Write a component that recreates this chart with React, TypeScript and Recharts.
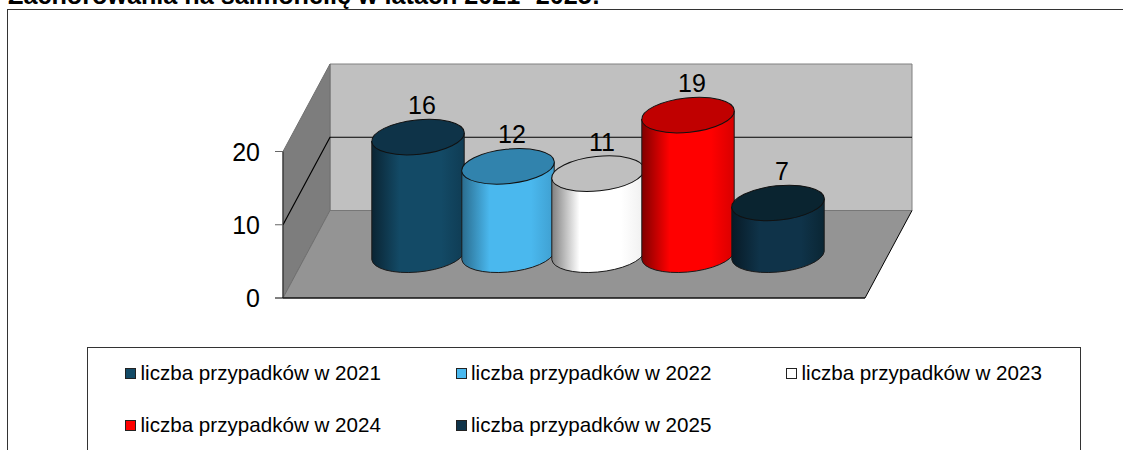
import { Bar, BarChart, LabelList, Legend, ReferenceArea, XAxis, YAxis } from 'recharts';

const title = 'Zachorowania na salmonellę w latach 2021- 2025:';
const categories = ['Zachorowania'];
const seriesNames = [
  'liczba przypadków w 2021',
  'liczba przypadków w 2022',
  'liczba przypadków w 2023',
  'liczba przypadków w 2024',
  'liczba przypadków w 2025',
];
const seriesValues = [16, 12, 11, 19, 7];
const yTicks = [0, 10, 20];

const sideFills = ['#134a66', '#4ab8ee', '#ffffff', '#ff0000', '#0f3349'];
const edgeFills = ['#0a2433', '#2a6c8e', '#808080', '#800000', '#071a26'];
const rightFills = ['#0f3c54', '#3f9fd0', '#f0f0f0', '#d80000', '#0a2634'];
const topFills = ['#0e3348', '#3183ad', '#bfbfbf', '#c00000', '#0a2430'];

const chartData = categories.map((category) => {
  const row: Record<string, string | number> = { category };
  seriesNames.forEach((name, i) => {
    row[name] = seriesValues[i];
  });
  return row;
});

const FONT = '"Liberation Sans", Arial, sans-serif';
const DEPTH_X = 47;
const DEPTH_Y = 87.5;
const RX = 46.5;
const RY = 17.2;
const TILT = 6;
const TANGENT = 4;

function Walls({ x, y, width, height }: any) {
  const bottom = y + height;
  const right = x + width;
  const backTop = y - DEPTH_Y;
  const backBottom = bottom - DEPTH_Y;
  const backLeft = x + DEPTH_X;
  const backRight = right + DEPTH_X;
  const midFront = y + height / 2;
  const midBack = midFront - DEPTH_Y;
  return (
    <g>
      <polygon
        points={`${backLeft},${backTop} ${backRight},${backTop} ${backRight},${backBottom} ${backLeft},${backBottom}`}
        fill="#c0c0c0"
        stroke="#808080"
        strokeWidth={1}
      />
      <polygon
        points={`${x},${y} ${backLeft},${backTop} ${backLeft},${backBottom} ${x},${bottom}`}
        fill="#7d7d7d"
        stroke="#707070"
        strokeWidth={1}
      />
      <polygon
        points={`${x},${bottom} ${backLeft},${backBottom} ${backRight},${backBottom} ${right},${bottom}`}
        fill="#949494"
      />
      <line x1={backLeft} y1={backBottom} x2={backRight} y2={backBottom} stroke="#777777" />
      <line x1={x} y1={bottom} x2={backLeft} y2={backBottom} stroke="#707070" />
      <line x1={right} y1={bottom} x2={backRight} y2={backBottom} stroke="#000000" />
      <polyline
        points={`${x},${midFront} ${backLeft},${midBack} ${backRight},${midBack}`}
        fill="none"
        stroke="#000000"
        strokeWidth={1.2}
      />
    </g>
  );
}

function makeCylinder(index: number) {
  return function Cylinder({ x, y, width, height }: any) {
    const cx = x + width / 2 + DEPTH_X / 2 + 0.5;
    const topY = y - DEPTH_Y / 2;
    const baseY = y + height - DEPTH_Y / 2 + 1.5;
    const left = cx - RX + 0.3;
    const right = cx + RX - 0.3;
    const side =
      `M${left},${topY + TANGENT} L${left},${baseY + TANGENT} ` +
      `A${RX},${RY} ${-TILT} 0 0 ${right},${baseY - TANGENT} ` +
      `L${right},${topY - TANGENT} ` +
      `A${RX},${RY} ${-TILT} 0 1 ${left},${topY + TANGENT} Z`;
    return (
      <g>
        <path d={side} fill={`url(#side-${index})`} stroke="#1a1a1a" strokeWidth={1} />
        <ellipse
          cx={cx}
          cy={topY}
          rx={RX}
          ry={RY}
          transform={`rotate(${-TILT} ${cx} ${topY})`}
          fill={topFills[index]}
          stroke="#111111"
          strokeWidth={1}
        />
      </g>
    );
  };
}

function renderValue({ x, y, width, value }: any) {
  return (
    <text
      x={x + width / 2 + DEPTH_X / 2 + 4.5}
      y={y - DEPTH_Y / 2 - 23}
      textAnchor="middle"
      fontFamily={FONT}
      fontSize={25}
      fill="#000000"
    >
      {value}
    </text>
  );
}

function renderTick({ x, y, payload }: any) {
  return (
    <g>
      <line x1={x + 15} y1={y} x2={x + 23} y2={y} stroke={payload.value === 0 ? '#000000' : '#666666'} />
      <text x={x} y={y + 9} textAnchor="end" fontFamily={FONT} fontSize={25} fill="#000000">
        {payload.value}
      </text>
    </g>
  );
}

function LegendBox({ payload }: any) {
  return (
    <div
      style={{
        position: 'relative',
        width: 992,
        height: 130,
        border: '1px solid #333333',
        background: '#ffffff',
        fontFamily: FONT,
        fontSize: 20.6,
        color: '#000000',
      }}
    >
      {(payload ?? []).map((item: any, i: number) => (
        <div
          key={item.value}
          style={{
            position: 'absolute',
            left: 37 + (i % 3) * 330.5,
            top: i < 3 ? 13 : 65,
            whiteSpace: 'nowrap',
            lineHeight: '24px',
          }}
        >
          <span
            style={{
              position: 'absolute',
              left: 0,
              top: 7,
              width: 9,
              height: 9,
              border: '1px solid #222222',
              background: item.color,
            }}
          />
          <span style={{ marginLeft: 15.5 }}>{item.value}</span>
        </div>
      ))}
    </div>
  );
}

export default function App() {
  return (
    <div
      style={{
        position: 'absolute',
        left: 0,
        top: 0,
        width: 1123,
        height: 450,
        overflow: 'hidden',
        background: '#ffffff',
      }}
    >
      <div
        style={{
          position: 'absolute',
          left: 8,
          top: -17,
          fontFamily: FONT,
          fontWeight: 700,
          fontSize: 25.2,
          lineHeight: '24px',
          whiteSpace: 'nowrap',
          color: '#000000',
        }}
      >
        {title}
      </div>
      <div
        style={{
          position: 'absolute',
          left: 7,
          top: 9,
          width: 1200,
          height: 600,
          border: '1px solid #333333',
        }}
      />
      <div style={{ position: 'absolute', left: 0, top: 0 }}>
        <BarChart
          width={1123}
          height={450}
          data={chartData}
          barSize={90}
          barGap={0}
          margin={{ top: 151.5, right: 258, bottom: 151, left: 223 }}
        >
          <defs>
            {seriesNames.map((name, i) => (
              <linearGradient key={name} id={`side-${i}`} x1="0" y1="0" x2="1" y2="0">
                <stop offset="0%" stopColor={edgeFills[i]} />
                <stop offset="30%" stopColor={sideFills[i]} />
                <stop offset="75%" stopColor={sideFills[i]} />
                <stop offset="100%" stopColor={rightFills[i]} />
              </linearGradient>
            ))}
          </defs>
          <XAxis
            dataKey="category"
            height={1}
            tick={false}
            tickLine={false}
            axisLine={{ stroke: '#111111', strokeWidth: 1.5 }}
          />
          <YAxis
            domain={[0, 20]}
            ticks={yTicks}
            width={60}
            tickSize={8}
            tickMargin={15}
            interval={0}
            axisLine={{ stroke: '#222222' }}
            tickLine={false}
            tick={renderTick}
          />
          <ReferenceArea y1={0} y2={20} shape={Walls} fill="none" stroke="none" />
          {seriesNames.map((name, i) => (
            <Bar
              key={name}
              dataKey={name}
              name={name}
              fill={sideFills[i]}
              isAnimationActive={false}
              shape={makeCylinder(i)}
            >
              <LabelList dataKey={name} content={renderValue} />
            </Bar>
          ))}
          <Legend
            layout="horizontal"
            align="center"
            verticalAlign="middle"
            content={LegendBox}
            wrapperStyle={{ left: 87, top: 347, width: 994, height: 130 }}
          />
        </BarChart>
      </div>
    </div>
  );
}
